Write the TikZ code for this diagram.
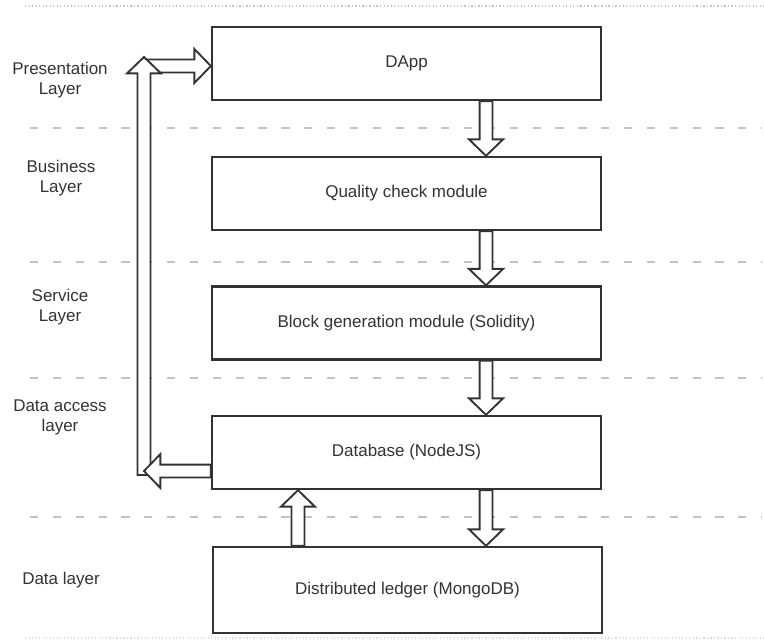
\documentclass[tikz,border=0pt]{standalone}
\usepackage{fontspec}
\setmainfont{Liberation Sans}
\usetikzlibrary{calc}

\definecolor{ink}{HTML}{333333}
\definecolor{rule}{HTML}{C4C4C4}

\tikzset{
	layerbox/.style={draw=ink, line width=2pt, fill=white, text=ink,
		minimum width=11.67cm, minimum height=2.19cm,
		font=\fontsize{14.5}{17}\selectfont},
	layertag/.style={text=ink, align=center, font=\fontsize{14.5}{17}\selectfont},
	separator/.style={rule, line width=1.2pt, dash pattern=on 7pt off 12.5pt},
	hollow/.style={draw=ink, line width=1.6pt, fill=white, line join=miter,
		to path={
			let \p1=(\tikztostart), \p2=(\tikztotarget), \p3=($(\p2)!14pt!(\p1)$) in
			($(\p1)!5.5pt!-90:(\p2)$) -- ($(\p3)!5.5pt!90:(\p1)$) -- ($(\p3)!14.5pt!90:(\p1)$)
			-- (\p2) -- ($(\p3)!14.5pt!-90:(\p1)$) -- ($(\p3)!5.5pt!-90:(\p1)$)
			-- ($(\p1)!5.5pt!90:(\p2)$) -- cycle
		}}
}

\begin{document}
\begin{tikzpicture}[x=0.03cm, y=-0.03cm]
		\useasboundingbox (0, 0) rectangle (764, 640);

		% Draw page rules and layer separators
		\draw[rule, line width=1pt, dotted] (25, 6) -- (764, 6);
		\draw[rule!60, line width=1pt, dotted] (25, 638) -- (764, 638);
		\draw[separator] (30, 128) -- (762, 128);
		\draw[separator] (30, 262) -- (762, 262);
		\draw[separator] (30, 378) -- (762, 378);
		\draw[separator] (30, 517) -- (762, 517);

		% Layer names
		\node[layertag] (presentation) at (60, 80) {Presentation\\Layer};
		\node[layertag] (business) at (61, 178) {Business\\Layer};
		\node[layertag] (service) at (60, 307) {Service\\Layer};
		\node[layertag] (access) at (60, 417) {Data access\\layer};
		\node[layertag] (data) at (61, 580) {Data layer};

		% Modules
		\node[layerbox] (dapp) at (406.5, 63.5) {DApp};
		\node[layerbox] (quality) at (406.5, 193.5) {Quality check module};
		\node[layerbox] (block) at (406.5, 323) {Block generation module (Solidity)};
		\node[layerbox] (database) at (406.5, 452.5) {Database (NodeJS)};
		\node[layerbox, minimum height=2.58cm] (ledger) at (407.5, 590) {Distributed ledger (MongoDB)};

		% Arrows
		\coordinate (flow) at (486, 0);
		\coordinate (back) at (298, 0);
		\coordinate (stem) at (144, 475);
		\coordinate (turn) at (144, 471);
		\coordinate (top) at (144, 57);
		\coordinate (feed) at (144, 66);

		\draw[hollow] (dapp.south -| flow) to (quality.north -| flow);
		\draw[hollow] (quality.south -| flow) to (block.north -| flow);
		\draw[hollow] (block.south -| flow) to (database.north -| flow);
		\draw[hollow] (database.south -| flow) to (ledger.north -| flow);
		\draw[hollow] (ledger.north -| back) to (database.south -| back);

		% Feedback loop to the DApp
		\draw[hollow] (feed) to (dapp.west |- feed);
		\draw[hollow] (stem) to (top);
		\draw[hollow] (database.west |- turn) to (turn);

\end{tikzpicture}
\end{document}
